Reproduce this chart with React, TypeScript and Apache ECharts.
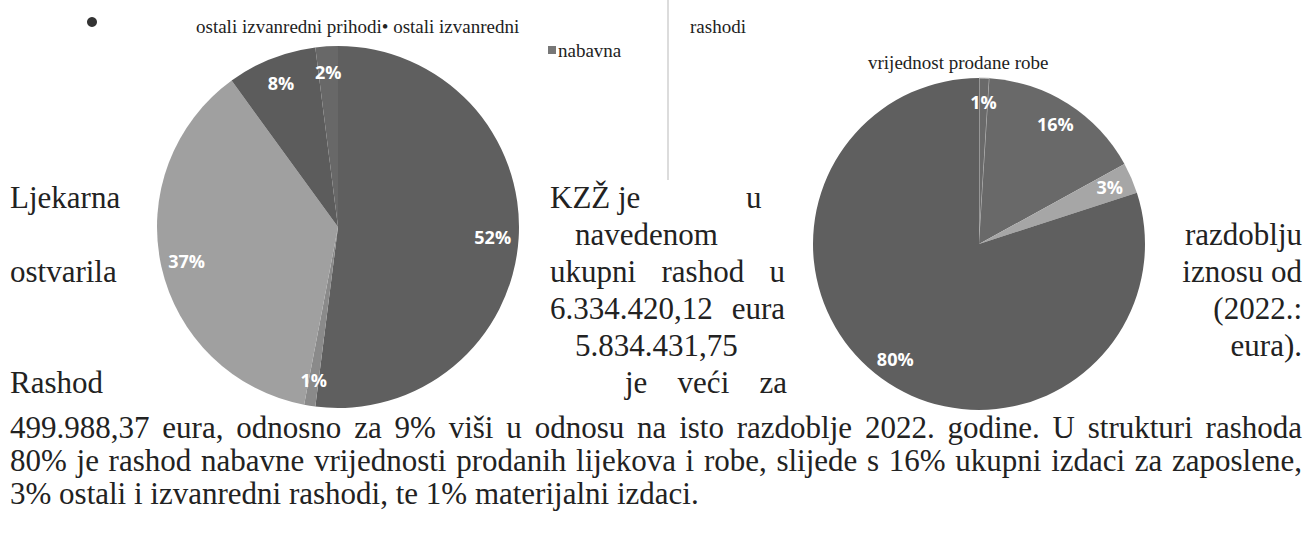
import React, { useEffect, useRef } from "react";
import * as echarts from "echarts";

// ---- data ----
const incomeNames = ["prihod A", "prihod B", "prihod C", "prihod D", "ostali izvanredni prihodi"];
const incomeValues = [52, 1, 37, 8, 2];
const expenseNames = ["materijalni izdaci", "izdaci za zaposlene", "ostali i izvanredni rashodi", "nabavna vrijednost prodane robe"];
const expenseValues = [1, 16, 3, 80];

// ---- styles ----
const incomeColors = ["#5f5f5f", "#8a8a8a", "#a0a0a0", "#5c5c5c", "#686868"];
const expenseColors = ["#6a6a6a", "#696969", "#a6a6a6", "#5f5f5f"];

const SERIF = '"Liberation Serif", "Times New Roman", serif';
const BODY = 31;
const SMALL = 19;
const TEXT_COLOR = "#222222";

// body text rows (centres)
const rowY = [197, 234, 271, 308, 345, 382, 427, 460, 493];

type Frag = { text: string; x: number; row: number; align?: "left" | "right" | "justify"; x2?: number };

const bodyFrags: Frag[] = [
  { text: "Ljekarna", x: 10, row: 0 },
  { text: "KZŽ je", x: 550, row: 0 },
  { text: "u", x: 746, row: 0 },
  { text: "navedenom", x: 575, row: 1 },
  { text: "razdoblju", x: 1302, row: 1, align: "right" },
  { text: "ostvarila", x: 10, row: 2 },
  { text: "ukupni rashod u", x: 550, x2: 785, row: 2, align: "justify" },
  { text: "iznosu od", x: 1302, row: 2, align: "right" },
  { text: "6.334.420,12 eura", x: 550, x2: 785, row: 3, align: "justify" },
  { text: "(2022.:", x: 1302, row: 3, align: "right" },
  { text: "5.834.431,75", x: 575, row: 4 },
  { text: "eura).", x: 1302, row: 4, align: "right" },
  { text: "Rashod", x: 10, row: 5 },
  { text: "je veći za", x: 625, x2: 787, row: 5, align: "justify" },
  { text: "499.988,37 eura, odnosno za 9% viši u odnosu na isto razdoblje 2022. godine. U strukturi rashoda", x: 10, x2: 1302, row: 6, align: "justify" },
  { text: "80% je rashod nabavne vrijednosti prodanih lijekova i robe, slijede s 16% ukupni izdaci za zaposlene,", x: 10, x2: 1302, row: 7, align: "justify" },
  { text: "3% ostali i izvanredni rashodi, te 1% materijalni izdaci.", x: 10, row: 8 },
];

const smallTexts = [
  { text: "ostali izvanredni prihodi• ostali izvanredni", x: 196, y: 26 },
  { text: "rashodi", x: 690, y: 26 },
  { text: "nabavna", x: 558, y: 50 },
  { text: "vrijednost prodane robe", x: 868, y: 62 },
];

let ctx: CanvasRenderingContext2D | null = null;
function measure(text: string, size: number): number {
  if (!ctx) ctx = document.createElement("canvas").getContext("2d");
  if (!ctx) return text.length * size * 0.45;
  ctx.font = `${size}px "Liberation Serif"`;
  return ctx.measureText(text).width;
}

function txt(text: string, x: number, y: number, size: number, align = "left") {
  return {
    type: "text",
    x,
    y,
    silent: true,
    style: {
      text,
      fontFamily: SERIF,
      fontSize: size,
      lineHeight: size,
      fill: TEXT_COLOR,
      verticalAlign: "middle",
      align,
    },
  };
}

function fragEls(f: Frag): any[] {
  const y = rowY[f.row];
  const align = f.align || "left";
  if (align === "left") return [txt(f.text, f.x, y, BODY)];
  if (align === "right") return [txt(f.text, f.x, y, BODY, "right")];
  const words = f.text.split(" ");
  const widths = words.map((w) => measure(w, BODY));
  const total = widths.reduce((a, b) => a + b, 0);
  const gap = words.length > 1 ? Math.max(((f.x2 as number) - f.x - total) / (words.length - 1), BODY * 0.2) : 0;
  const els: any[] = [];
  let cx = f.x;
  words.forEach((w, i) => {
    els.push(txt(w, cx, y, BODY));
    cx += widths[i] + gap;
  });
  return els;
}

const LEFT_C = [338, 227];
const LEFT_R = 181;
const RIGHT_C = [979, 244];
const RIGHT_R = 166;

const labelStyle = {
  show: true,
  position: "inside",
  formatter: "{c}%",
  color: "#ffffff",
  fontWeight: "bold",
  fontSize: 18,
  fontFamily: '"Open Sans", "DejaVu Sans", sans-serif',
};

function pieSeries(values: number[], names: string[], colors: string[], center: number[], r: number, extra: any = {}) {
  return [
    {
      type: "pie",
      center,
      radius: r,
      startAngle: 90,
      clockwise: true,
      silent: true,
      label: { show: false },
      labelLine: { show: false },
      itemStyle: { borderWidth: 0 },
      data: values.map((v, i) => ({
        value: v,
        name: names[i],
        itemStyle: { color: colors[i], ...(extra[i] || {}) },
      })),
    },
    {
      type: "pie",
      center,
      radius: [r * 0.68, r],
      startAngle: 90,
      clockwise: true,
      silent: true,
      z: 5,
      label: labelStyle,
      labelLine: { show: false },
      itemStyle: { color: "rgba(0,0,0,0)", borderWidth: 0 },
      data: values.map((v, i) => ({ value: v, name: names[i] })),
    },
  ];
}

export default function App() {
  const ref = useRef<HTMLDivElement>(null);
  useEffect(() => {
    if (!ref.current) return;
    const chart = echarts.init(ref.current, null, { renderer: "svg" });
    const graphics: any[] = [];
    graphics.push({
      type: "line",
      shape: { x1: 668, y1: 0, x2: 668, y2: 180 },
      style: { stroke: "#dcdcdc", lineWidth: 2 },
      silent: true,
    });
    graphics.push({ type: "circle", shape: { cx: 92, cy: 22, r: 5 }, style: { fill: "#333" }, silent: true });
    graphics.push({ type: "rect", shape: { x: 548, y: 46, width: 8, height: 8 }, style: { fill: "#777" }, silent: true });
    smallTexts.forEach((s) => graphics.push(txt(s.text, s.x, s.y, SMALL)));
    bodyFrags.forEach((f) => fragEls(f).forEach((e) => graphics.push(e)));

    chart.setOption({
      animation: false,
      backgroundColor: "#ffffff",
      series: [
        ...pieSeries(incomeValues, incomeNames, incomeColors, LEFT_C, LEFT_R),
        ...pieSeries(expenseValues, expenseNames, expenseColors, RIGHT_C, RIGHT_R, {
          0: { borderColor: "#c4c4c4", borderWidth: 1 },
        }),
      ],
      graphic: graphics,
    });
    return () => chart.dispose();
  }, []);
  return (
    <div
      ref={ref}
      style={{ position: "absolute", left: 0, top: 0, width: 1308, height: 535, background: "#fff" }}
    />
  );
}
